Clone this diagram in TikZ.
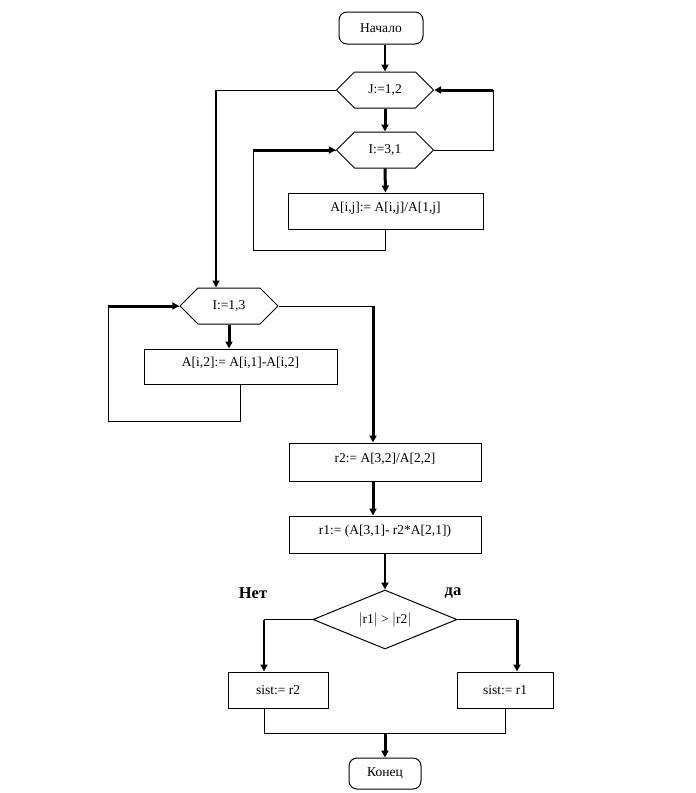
\documentclass[tikz,border=0pt]{standalone}
\usepackage{fontspec}
\setmainfont{Liberation Serif}
\usetikzlibrary{arrows.meta}
\usetikzlibrary{positioning}
\usetikzlibrary{shapes.geometric,shapes.symbols}

\begin{document}
\begin{tikzpicture}[x=1pt,y=-1pt,>={Triangle[length=7pt,width=7pt]},
	font=\fontsize{13.5}{15}\selectfont,
	line/.style={draw,line width=1pt},
	mid/.style={line width=2pt},
	heavy/.style={line width=3pt},
	arr/.style={->,line width=2pt},
	term/.style={draw,line width=1pt,rounded corners=8pt,inner sep=0pt},
	hexa/.style={draw,line width=1pt,signal,signal to=west and east,minimum width=97pt,minimum height=36pt,inner sep=0pt},
	block/.style={draw,line width=1pt,rectangle,inner sep=0pt},
	upper/.style={text height=9pt,text depth=9pt},
	cond/.style={draw,line width=1pt,diamond,aspect=2.44,minimum width=144pt,minimum height=59pt,inner sep=0pt}]
	\useasboundingbox (0,0) rectangle (696,793);
	% nodes
	\node[term,minimum width=84pt,minimum height=32pt] (start) at (381,28) {Начало};
	\node[hexa] (J) at (385,90) {J:=1,2};
	\node[hexa] (I1) at (385,150) {I:=3,1};
	\node[block,upper,minimum width=195pt,minimum height=36pt] (divj) at (385.5,211) {A[i,j]:= A[i,j]/A[1,j]};
	\node[hexa,minimum width=98pt] (I2) at (229,306) {I:=1,3};
	\node[block,upper,minimum width=193pt,minimum height=35pt] (sub) at (240.5,366.5) {A[i,2]:= A[i,1]-A[i,2]};
	\node[block,upper,minimum width=192pt,minimum height=38pt] (r2) at (385,462) {r2:= A[3,2]/A[2,2]};
	\node[block,upper,minimum width=192pt,minimum height=37pt] (r1) at (385,534.5) {r1:= (A[3,1]- r2*A[2,1])};
	\node[cond] (cmp) at (385,619.5) {$|$r1$|$ > $|$r2$|$};
	\node[block,minimum width=100pt,minimum height=36pt] (s2) at (278,690) {sist:= r2};
	\node[block,minimum width=96pt,minimum height=36pt] (s1) at (505,690) {sist:= r1};
	\node[term,minimum width=72pt,minimum height=31pt] (end) at (385,773.5) {Конец};
	\node[font=\fontsize{16.5}{18}\selectfont\bfseries] (no) at (253,593) {Нет};
	\node[font=\fontsize{16.5}{18}\selectfont\bfseries] (yes) at (453,593) {да};
	% corners
	\coordinate (lpA) at (253,250);
	\coordinate (rpA) at (493,90);
	\coordinate (lpJ) at (216,90);
	\coordinate (lpB) at (108,421);
	\coordinate (rpB) at (373,306);
	\coordinate (nb) at (264,619.5);
	\coordinate (yb) at (517,619.5);
	\coordinate (jn) at (385,733);
	% outer loop J
	\draw[arr] (start.south -| J.north)--(J.north);
	\draw[arr,heavy] (J.south)--(I1.north);
	\draw[arr,heavy] (I1.south)--(divj.north);
	\draw[line] (divj.south)|-(lpA)|-(I1.west);
	\draw[arr,heavy] (lpA |- I1.west)--(I1.west);
	\draw[line] (I1.east)-|(rpA);
	\draw[arr,heavy] (rpA)--(J.east);
	% second loop
	\draw[line] (J.west)--(lpJ);
	\draw[arr] (lpJ)--(lpJ |- I2.north);
	\draw[arr,heavy] (I2.south)--(I2.south |- sub.north);
	\draw[line] (sub.south)|-(lpB)|-(I2.west);
	\draw[arr,heavy] (lpB |- I2.west)--(I2.west);
	\draw[line] (I2.east)--(rpB);
	\draw[arr,heavy] (rpB)--(rpB |- r2.north);
	\draw[arr,heavy] (rpB |- r2.south)--(rpB |- r1.north);
	\draw[arr] (r1.south)--(cmp.north);
	% branches
	\draw[line] (cmp.west)--(nb);
	\draw[arr] (nb)--(nb |- s2.north);
	\draw[line] (cmp.east)--(yb);
	\draw[arr,heavy] (yb)--(yb |- s1.north);
	\draw[line] (nb |- s2.south)|-(jn)-|(s1.south);
	\draw[arr,heavy] (jn)--(end.north);
\end{tikzpicture}
\end{document}
